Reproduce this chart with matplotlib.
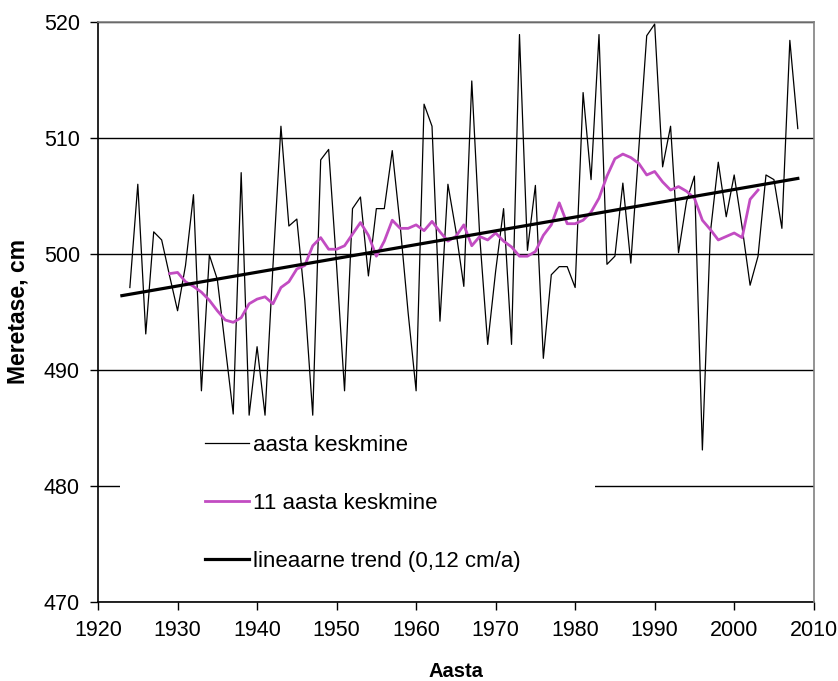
import matplotlib
matplotlib.use("Agg")
import matplotlib.pyplot as plt
from matplotlib.patches import Rectangle

# Annual mean sea level (cm)
years = list(range(1924, 2009))
annual = [
    497.1, 506.0, 493.1, 501.9, 501.2, 498.1, 495.1, 499.0, 505.1, 488.2,  # 1924-1933
    499.9, 497.8, 492.0, 486.2, 507.0, 486.1, 492.0, 486.1, 499.0, 511.0,  # 1934-1943
    502.4, 503.0, 496.0, 486.1, 508.1, 509.0, 499.0, 488.2, 503.9, 504.9,  # 1944-1953
    498.1, 503.9, 503.9, 508.9, 502.4, 494.9, 488.2, 512.9, 511.0, 494.2,  # 1954-1963
    506.0, 502.0, 497.2, 514.9, 501.5, 492.2, 498.5, 503.9, 492.2, 518.9,  # 1964-1973
    500.3, 505.9, 491.0, 498.2, 498.9, 498.9, 497.1, 513.9, 506.4, 518.9,  # 1974-1983
    499.1, 499.8, 506.1, 499.2, 509.0, 518.8, 519.8, 507.5, 511.0, 500.1,  # 1984-1993
    504.5, 506.7, 483.1, 501.8, 507.9, 503.2, 506.8, 502.3, 497.3, 499.8,  # 1994-2003
    506.8, 506.4, 502.2, 518.4, 510.8,                                     # 2004-2008
]

# 11-year running mean (magenta)
ma_years = list(range(1929, 2004))
ma_vals = [
    498.3, 498.4, 497.6, 497.2, 496.7, 496.0, 495.1, 494.3, 494.1, 494.5,  # 1929-1938
    495.7, 496.1, 496.3, 495.7, 497.1, 497.6, 498.7, 499.0, 500.7, 501.4,  # 1939-1948
    500.4, 500.4, 500.7, 501.7, 502.7, 501.6, 499.8, 501.1, 502.9, 502.2,  # 1949-1958
    502.2, 502.5, 502.0, 502.8, 501.9, 501.1, 501.5, 502.5, 500.7, 501.5,  # 1959-1968
    501.2, 501.8, 501.1, 500.6, 499.8, 499.8, 500.2, 501.6, 502.5, 504.4,  # 1969-1978
    502.6, 502.6, 502.9, 503.6, 504.8, 506.7, 508.2, 508.6, 508.3, 507.8,  # 1979-1988
    506.8, 507.1, 506.2, 505.5, 505.8, 505.4, 504.8, 502.9, 502.1, 501.2,  # 1989-1998
    501.5, 501.8, 501.4, 504.7, 505.5,                                     # 1999-2003
]

# linear trend end points
trend_years = [1923, 2008]
trend_vals = [496.4, 506.5]

labels = ["aasta keskmine", "11 aasta keskmine", "lineaarne trend (0,12 cm/a)"]

plt.rcParams['font.family'] = ['Liberation Sans', 'DejaVu Sans']

fig = plt.figure(figsize=(8.38, 6.81), dpi=100)
ax = fig.add_axes([0.117, 0.116, 0.854, 0.852])

ax.plot(years, annual, color='black', lw=0.9, zorder=3, label=labels[0])
ax.plot(ma_years, ma_vals, color='#C24CC2', lw=2.0, zorder=4, label=labels[1])
ax.plot(trend_years, trend_vals, color='black', lw=2.3, zorder=5, label=labels[2])

ax.set_xlim(1920, 2010)
ax.set_ylim(470, 520)
ax.set_xticks(range(1920, 2011, 10))
ax.set_yticks(range(470, 521, 10))

# horizontal grid only
ax.set_axisbelow(True)
ax.yaxis.grid(True, color='black', lw=1.0)

ax.tick_params(axis='both', direction='out', length=6, width=1.0,
               labelsize=15.5, pad=7, color='black')

for side in ['left', 'bottom']:
    ax.spines[side].set_color('black')
    ax.spines[side].set_linewidth(1.2)
for side in ['top', 'right']:
    ax.spines[side].set_color('#808080')
    ax.spines[side].set_linewidth(1.2)
    ax.spines[side].set_zorder(6)

ax.set_xlabel('Aasta', fontsize=14.5, fontweight='bold', labelpad=15)
ax.set_ylabel('Meretase, cm', fontsize=16.5, fontweight='bold', labelpad=10)

# white legend background hiding part of the 480 gridline
ax.add_patch(Rectangle((0.031, 0.04), 0.663, 0.27, transform=ax.transAxes,
                       facecolor='white', edgecolor='none', zorder=1))

ax.legend(loc='center left', bbox_to_anchor=(0.134, 0.170), frameon=False,
          fontsize=16, borderpad=0, handlelength=2.0, handletextpad=0.15,
          labelspacing=1.68)

fig.savefig('out.png', dpi=100)
